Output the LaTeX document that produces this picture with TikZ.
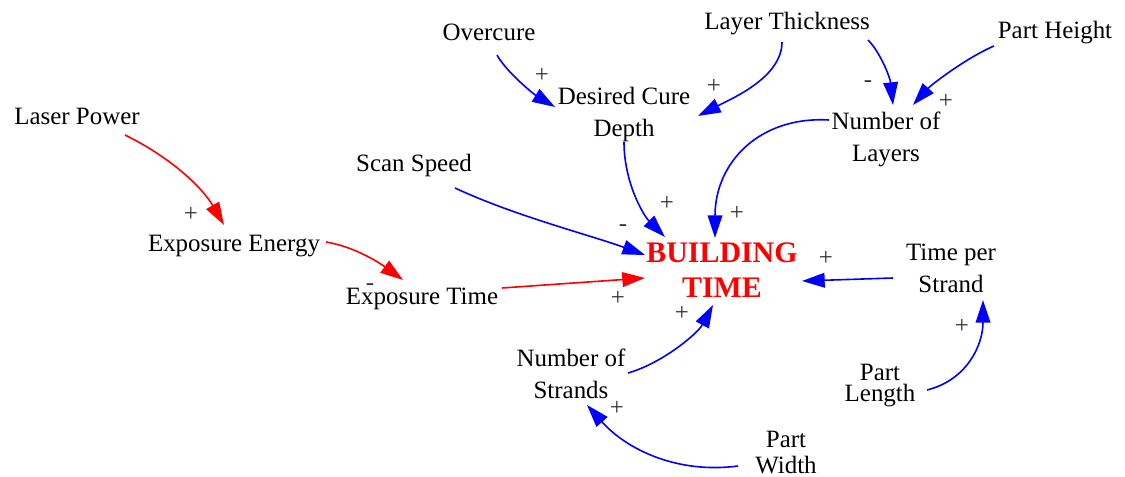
\documentclass[tikz,border=0pt]{standalone}
\usepackage{fontspec}
\setmainfont{Liberation Serif}
\usetikzlibrary{arrows.meta}
\begin{document}
\begin{tikzpicture}[x=0.75pt,y=-0.75pt,
  font=\fontsize{18.7}{24}\selectfont,
  var/.style={inner sep=0pt,align=center},
  key/.style={var,text=red,font=\fontsize{22.4}{26.25}\selectfont\bfseries},
  link/.style={line width=1.2pt,draw=blue,-{Triangle[length=17pt,width=11pt]}},
  redlink/.style={link,draw=red},
  sign/.style={inner sep=0pt,text height=0.5em,text depth=0pt,text=black!80}]
\useasboundingbox (0,0) rectangle (1125,477);

% variables
\node[var] (ov)  at (489,34.6)  {\strut Overcure};
\node[var] (lt)  at (787,23.6)  {\strut Layer Thickness};
\node[var] (ph)  at (1055,32.6) {\strut Part Height};
\node[var] (lp)  at (77,118.6)  {\strut Laser Power};
\node[var] (dcd) at (624,114.4) {\strut Desired Cure\\\strut Depth};
\node[var] (nl)  at (886,139.6) {\strut Number of\\\strut Layers};
\node[var] (ss)  at (414,165.6) {\strut Scan Speed};
\node[var] (ee)  at (234,245.6) {\strut Exposure Energy};
\node[var] (et)  at (422,298.6) {\strut Exposure Time};
\node[key] (bt)  at (722,273.5) {\strut BUILDING\\\strut TIME};
\node[var] (tps) at (951,270.6) {\strut Time per\\\strut Strand};
\node[var] (ns)  at (571,375.6) {\strut Number of\\\strut Strands};
\node[var] (pl)  at (880,386)   {Part\\[-8.25pt]Length};
\node[var] (pw)  at (786,453.6) {\strut Part\\[-4.5pt]\strut Width};

% causal links
\draw[link] ([shift={(8,20.4)}]ov.center) .. controls +(10,18) and +(-20,-12) .. ([shift={(-69,-7.4)}]dcd.center);
\draw[link] ([shift={(-5,18.4)}]lt.center) .. controls +(0,35) and +(35,-18) .. ([shift={(74,1.6)}]dcd.center);
\draw[link] ([shift={(81,16.4)}]lt.center) .. controls +(12,12) and +(-3,-28) .. ([shift={(7,-34.6)}]nl.center);
\draw[link] ([shift={(-61,13.4)}]ph.center) .. controls +(-28,12) and +(18,-20) .. ([shift={(27,-34.6)}]nl.center);
\draw[link] ([shift={(-57,-19.6)}]nl.center) .. controls +(-70,-4) and +(0,-75) .. ([shift={(-7,-35.5)}]bt.center);
\draw[link] ([shift={(0,27.6)}]dcd.center) .. controls +(0,40) and +(-22,-22) .. ([shift={(-57,-36.5)}]bt.center);
\draw[link] ([shift={(41,22.4)}]ss.center) .. controls +(60,28) and +(-55,-20) .. ([shift={(-77,-18.5)}]bt.center);
\draw[redlink] ([shift={(48,16.4)}]lp.center) .. controls +(45,22) and +(-22,-38) .. ([shift={(-10,-20.6)}]ee.center);
\draw[redlink] ([shift={(92,-3.6)}]ee.center) .. controls +(30,5) and +(-22,-16) .. ([shift={(-19,-18.6)}]et.center);
\draw[redlink] ([shift={(80,-10.6)}]et.center) -- ([shift={(-77,4.5)}]bt.center);
\draw[link] ([shift={(-58,7.4)}]tps.center) -- ([shift={(80,7.5)}]bt.center);
\draw[link] ([shift={(57,-2.6)}]ns.center) .. controls +(35,-10) and +(-15,28) .. ([shift={(-9,31.5)}]bt.center);
\draw[link] ([shift={(-48,12.4)}]pw.center) .. controls +(-60,8) and +(40,45) .. ([shift={(16,29.4)}]ns.center);
\draw[link] ([shift={(47,4)}]pl.center) .. controls +(40,-10) and +(0,45) .. ([shift={(32,29.4)}]tps.center);

% link polarities
\node[sign] (s1)  at (542,79)  {+};
\node[sign] (s2)  at (714,90)  {+};
\node[sign] (s3)  at (868,84)  {-};
\node[sign] (s4)  at (946,105) {+};
\node[sign] (s5)  at (737,217) {+};
\node[sign] (s6)  at (667,207) {+};
\node[sign] (s7)  at (623,228) {-};
\node[sign] (s8)  at (191,218) {+};
\node[sign] (s9)  at (370,287) {-};
\node[sign] (s10) at (618,302) {+};
\node[sign] (s11) at (826,262) {+};
\node[sign] (s12) at (682,317) {+};
\node[sign] (s13) at (617,412) {+};
\node[sign] (s14) at (962,330) {+};
\end{tikzpicture}
\end{document}
